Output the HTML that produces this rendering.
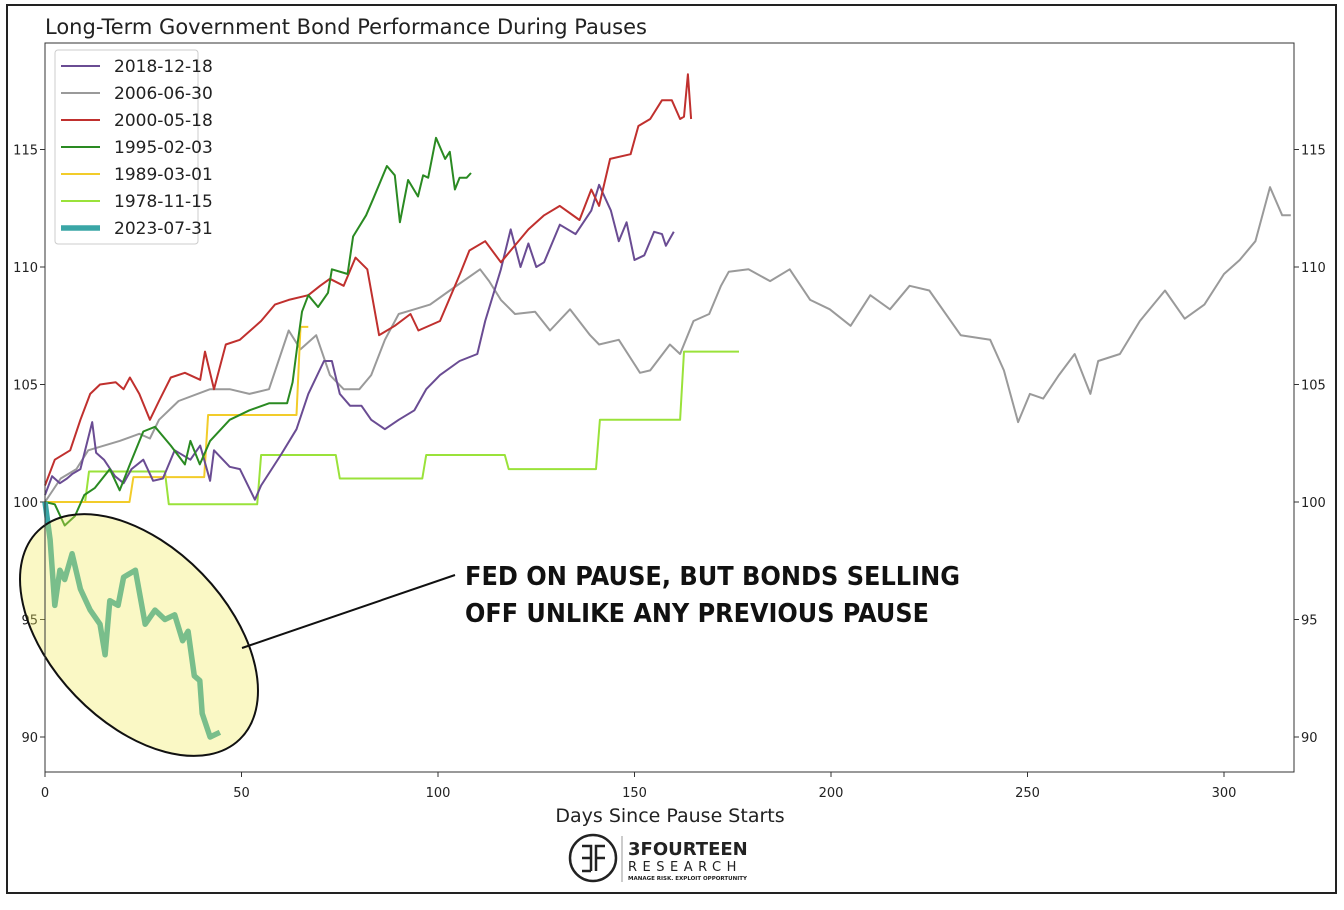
<!DOCTYPE html>
<html><head><meta charset="utf-8"><style>
body{margin:0;background:#fff;}
svg{display:block;font-family:"DejaVu Sans","Liberation Sans",sans-serif;}
</style></head><body>
<svg width="1344" height="910">
<rect x="7" y="5" width="1329" height="888" fill="#fff" stroke="#222" stroke-width="2"/>
<text x="45" y="34" font-size="21" fill="#222">Long-Term Government Bond Performance During Pauses</text>
<g id="plot"></g>
<rect x="45" y="43" width="1249" height="729" fill="none" stroke="#333" stroke-width="1"/>
<text x="670" y="822" font-size="19" text-anchor="middle" fill="#222">Days Since Pause Starts</text>
<g>
<circle cx="593" cy="858" r="23" fill="none" stroke="#222" stroke-width="2.5"/>
<path d="M582 846 h9 v25 M582 858 h9 M582 871 h9 M605 846 h-9 v25 M605 858 h-9" fill="none" stroke="#222" stroke-width="2.5"/>
<line x1="622" y1="836" x2="622" y2="882" stroke="#999" stroke-width="1"/>
<text x="628" y="855" font-size="18" font-weight="bold" fill="#222">3FOURTEEN</text>
<text x="628" y="871" font-size="13" fill="#222" letter-spacing="5.5">RESEARCH</text>
<text x="628" y="880" font-size="5.5" font-weight="bold" fill="#222">MANAGE RISK. EXPLOIT OPPORTUNITY</text>
</g>
<g>
<rect x="55" y="50" width="143" height="194" rx="3" fill="#fff" fill-opacity="0.85" stroke="#ccc"/>
</g>
<g id="legend"></g>
<g id="annot">
<line x1="242" y1="648" x2="455" y2="575" stroke="#111" stroke-width="2"/>
<text x="465" y="585" font-size="26" font-weight="bold" fill="#111" textLength="495" lengthAdjust="spacingAndGlyphs">FED ON PAUSE, BUT BONDS SELLING</text>
<text x="465" y="622" font-size="26" font-weight="bold" fill="#111" textLength="464" lengthAdjust="spacingAndGlyphs">OFF UNLIKE ANY PREVIOUS PAUSE</text>
</g>
</svg>
<script>
const xTicks=[0,50,100,150,200,250,300];
const yTicks=[90,95,100,105,110,115];
const names=["2018-12-18","2006-06-30","2000-05-18","1995-02-03","1989-03-01","1978-11-15","2023-07-31"];
const colors=["#6a4c93","#9a9a9a","#c0302e","#2a8a22","#f2cc2a","#9ae23a","#3aa6a6"];
const s2018=[[0,100.3],[1.8,101.1],[3.8,100.8],[5.6,101],[7,101.2],[9,101.4],[12,103.4],[13,102.1],[15,101.8],[17.8,101.1],[20,100.8],[22,101.4],[25,101.8],[27.5,100.9],[30,101],[33,102.2],[37,101.8],[39.5,102.4],[42,100.9],[43,102.2],[47,101.5],[49.6,101.4],[53.4,100.1],[55,100.7],[60,102],[64,103.1],[67,104.6],[71,106],[73,106],[75,104.6],[77.6,104.1],[80.5,104.1],[83,103.5],[86.5,103.1],[90,103.5],[94,103.9],[97,104.8],[100.5,105.4],[105.5,106],[110,106.3],[112,107.7],[116,109.9],[118.5,111.6],[121,110],[123,111],[125,110],[127,110.2],[131,111.8],[135,111.4],[139,112.4],[141,113.5],[144,112.4],[146,111.1],[148,111.9],[150,110.3],[152.5,110.5],[155,111.5],[157,111.4],[158,110.9],[160,111.5]];
const s2006=[[0,100],[4,101],[8,101.4],[11,102.2],[19,102.6],[24,102.9],[26.7,102.7],[29,103.5],[34,104.3],[42,104.8],[47,104.8],[52,104.6],[57,104.8],[62,107.3],[65,106.5],[69,107.1],[72.5,105.4],[76,104.8],[80,104.8],[83,105.4],[86.5,106.9],[90,108],[94,108.2],[98,108.4],[103,109],[110.7,109.9],[113,109.4],[116,108.6],[119.6,108],[124.7,108.1],[128.5,107.3],[133.6,108.2],[138.7,107.1],[141,106.7],[146,106.9],[151.4,105.5],[154,105.6],[159,106.7],[161.6,106.3],[165,107.7],[169,108],[172,109.2],[174,109.8],[179,109.9],[184.5,109.4],[189.5,109.9],[194.7,108.6],[199.7,108.2],[205,107.5],[210,108.8],[215,108.2],[220,109.2],[225,109],[233,107.1],[240.5,106.9],[244,105.6],[247.6,103.4],[250.6,104.6],[254,104.4],[258,105.4],[262,106.3],[266,104.6],[268,106],[273.5,106.3],[278.6,107.7],[285,109],[290,107.8],[295,108.4],[300,109.7],[304,110.3],[308,111.1],[311.7,113.4],[314.8,112.2],[317,112.2]];
const s2000=[[0,100.7],[2.5,101.8],[6.4,102.2],[9,103.5],[11.5,104.6],[14,105],[18,105.1],[20,104.8],[21.6,105.3],[24,104.6],[26.7,103.5],[29,104.3],[32,105.3],[35.6,105.5],[39.5,105.2],[40.7,106.4],[43,104.8],[46,106.7],[49.6,106.9],[55,107.7],[58.5,108.4],[62,108.6],[67,108.8],[70,109.2],[72.5,109.5],[76,109.2],[79,110.4],[82,109.9],[85,107.1],[89,107.5],[93,108],[95,107.3],[100.5,107.7],[105.6,109.7],[108,110.7],[112,111.1],[116,110.2],[118.5,110.7],[123,111.6],[127,112.2],[131,112.6],[136,112],[139,113.3],[141,112.6],[143.8,114.6],[149,114.8],[151,116],[154,116.3],[157,117.1],[159.5,117.1],[161.6,116.3],[162.6,116.4],[163.6,118.2],[164.4,116.3]];
const s1995=[[0,100],[2.5,99.9],[5,99],[7.6,99.4],[10,100.3],[12.7,100.6],[16.5,101.4],[19,100.5],[21.6,101.6],[25,103],[28,103.2],[32,102.4],[35.6,101.6],[37,102.6],[39.4,101.6],[42,102.6],[47,103.5],[52,103.9],[57,104.2],[61.6,104.2],[63,105.1],[64.4,106.9],[65.4,108.1],[67,108.8],[69.5,108.3],[72,108.9],[73,109.9],[77,109.7],[78.4,111.3],[81.7,112.2],[83.5,112.9],[87,114.3],[89,113.9],[90.3,111.9],[92.4,113.7],[94.9,113],[96.2,113.9],[97.5,113.8],[99.5,115.5],[101.8,114.6],[103,114.9],[104.3,113.3],[105.5,113.8],[107.3,113.8],[108.4,114]];
const s1989=[[0,100],[21.5,100],[22.5,101.06],[40.5,101.06],[41.5,103.7],[64,103.7],[65,107.45],[67,107.45]];
const s1978=[[0,100],[10.2,100],[11.2,101.3],[30.5,101.3],[31.5,99.9],[54,99.9],[55,102],[74,102],[75,101],[96,101],[97,102],[117,102],[118,101.4],[140.2,101.4],[141.2,103.5],[161.6,103.5],[162.6,106.4],[176.6,106.4]];
const s2023=[[0,100],[1.3,98.4],[2.5,95.6],[3.8,97.1],[5,96.7],[6.9,97.8],[9,96.3],[11.5,95.4],[14,94.8],[15.3,93.5],[16.5,95.8],[18.6,95.6],[20,96.8],[23,97.1],[25.5,94.8],[28,95.4],[30.5,95],[33,95.2],[35,94.1],[36.4,94.5],[38,92.6],[39.4,92.4],[40,91],[42,90],[44.5,90.2]];
const series=[s2018,s2006,s2000,s1995,s1989,s1978];
const X=d=>45+d*3.93, Y=v=>502-(v-100)*23.5;
const NS="http://www.w3.org/2000/svg";
const plot=document.getElementById('plot'), svg=document.querySelector('svg');
function mk(tag,attrs,parent){const e=document.createElementNS(NS,tag);for(const k in attrs)e.setAttribute(k,attrs[k]);parent.appendChild(e);return e;}
xTicks.forEach(t=>{
 const l=mk('line',{x1:X(t),x2:X(t),y1:772,y2:777,stroke:'#333'},plot);
 
 
 const tx=mk('text',{x:X(t),y:797,'font-size':13,'text-anchor':'middle',fill:'#222'},plot);tx.textContent=t;
 
 
});
yTicks.forEach(t=>{
 [[40,45,'end'],[1294,1299,'start']].forEach(([a,b,anc])=>{
  const l=mk('line',{x1:a,x2:b,y1:Y(t),y2:Y(t),stroke:'#333'},plot);
  
  
  const tx=mk('text',{x:anc==='end'?38:1301,y:Y(t)+5,'font-size':13,'text-anchor':anc,fill:'#222'},plot);tx.textContent=t;
  
  
 });
});
const pts=s=>s.map(p=>X(p[0]).toFixed(1)+','+Y(p[1]).toFixed(1)).join(' ');
[1,5,4,0,2,3].forEach(i=>{
 const pl=mk('polyline',{points:pts(series[i]),fill:'none',stroke:colors[i],'stroke-width':2,'stroke-linejoin':'round'},plot);
 
 
});
const t=mk('polyline',{points:pts(s2023),fill:'none',stroke:colors[6],'stroke-width':5.5,'stroke-linejoin':'round'},plot);


const el=mk('ellipse',{cx:139,cy:635,rx:145,ry:88,transform:'rotate(46 139 635)',fill:'rgb(240,235,90)','fill-opacity':0.35,stroke:'#111','stroke-width':2},plot);


const lg=document.getElementById('legend');
names.forEach((n,i)=>{
 const y=66+i*27;
 const l=mk('line',{x1:61,x2:100,y1:y,y2:y,stroke:colors[i],'stroke-width':i===6?5.5:2},lg);
 
 
 const tx=mk('text',{x:114,y:y+6,'font-size':17,fill:'#222'},lg);tx.textContent=n;
 
 
});
svg.appendChild(document.getElementById('annot'));
</script>
</body></html>
